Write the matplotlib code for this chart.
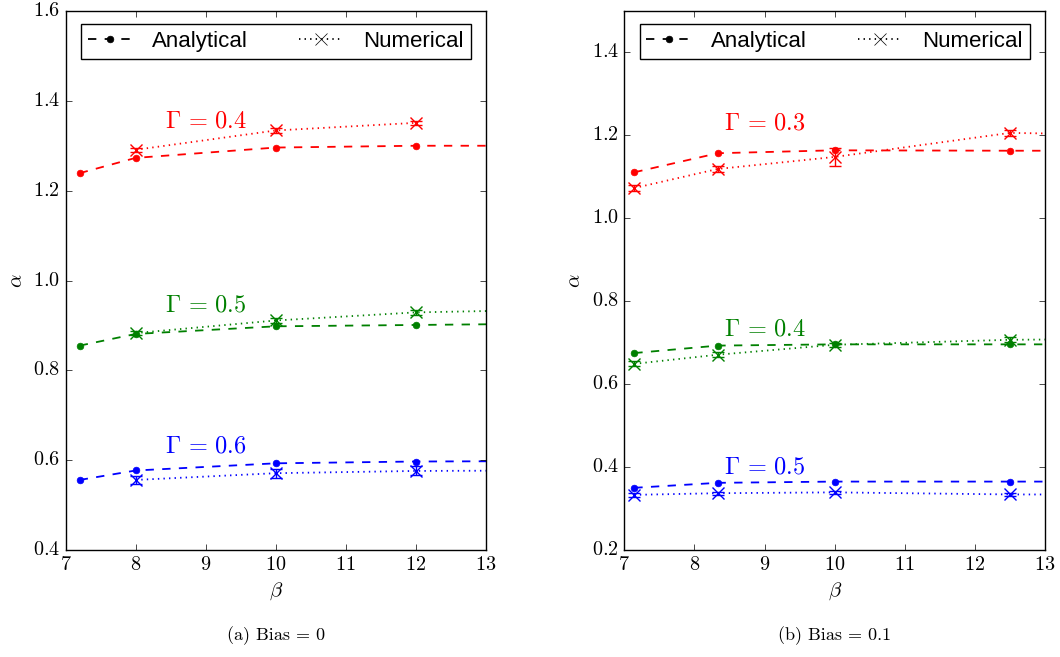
import numpy as np
import matplotlib
matplotlib.use('Agg')
import matplotlib.pyplot as plt
from matplotlib.lines import Line2D

plt.style.use('classic')
plt.rcParams['font.family'] = 'serif'
plt.rcParams['font.serif'] = ['cmr10']
plt.rcParams['mathtext.fontset'] = 'cm'
plt.rcParams['axes.formatter.use_mathtext'] = True

# ---- data: Bias = 0 ----
beta_a = [7.2, 8, 10, 12, 14]
beta_a_num = [8, 10, 12, 14]
ana_a = {0.4: [1.239, 1.273, 1.296, 1.300, 1.300],
         0.5: [0.855, 0.881, 0.898, 0.901, 0.904],
         0.6: [0.556, 0.577, 0.593, 0.597, 0.598]}
num_a = {0.4: [1.291, 1.334, 1.351],
         0.5: [0.883, 0.911, 0.929, 0.935],
         0.6: [0.556, 0.571, 0.576, 0.577]}
err_a = {0.4: [0.005, 0.005, 0.004],
         0.5: [0.005, 0.006, 0.005, 0.0],
         0.6: [0.008, 0.010, 0.010, 0.0]}

# ---- data: Bias = 0.1 ----
beta_b = [50 / 7, 50 / 6, 50 / 5, 50 / 4, 50 / 3]
ana_b = {0.3: [1.111, 1.157, 1.164, 1.163, 1.163],
         0.4: [0.675, 0.693, 0.696, 0.696, 0.696],
         0.5: [0.350, 0.362, 0.365, 0.365, 0.365]}
num_b = {0.3: [1.073, 1.119, 1.148, 1.206, 1.195],
         0.4: [0.649, 0.671, 0.695, 0.707, 0.712],
         0.5: [0.333, 0.337, 0.339, 0.334, 0.333]}
err_b = {0.3: [0.008, 0.008, 0.021, 0.008, 0.0],
         0.4: [0.006, 0.006, 0.005, 0.006, 0.0],
         0.5: [0.004, 0.004, 0.004, 0.004, 0.0]}

colors_a = {0.4: 'r', 0.5: 'g', 0.6: 'b'}
colors_b = {0.3: 'r', 0.4: 'g', 0.5: 'b'}
label_y_a = {0.4: 1.355, 0.5: 0.944, 0.6: 0.630}
label_y_b = {0.3: 1.230, 0.4: 0.733, 0.5: 0.400}

fig = plt.figure(figsize=(10.6, 6.57), dpi=100)
fig.patch.set_facecolor('white')
ax1 = fig.add_axes([65.7 / 1060, 107 / 657, 420 / 1060, 539 / 657])
ax2 = fig.add_axes([624.3 / 1060, 107 / 657, 420.7 / 1060, 539 / 657])


def draw(ax, xa, xn, ana, num, err, colors, label_y):
    for g in ana:
        c = colors[g]
        ax.plot(xa, ana[g], '--', color=c, marker='o', markersize=4.8,
                markeredgecolor=c, lw=1.3)
        n = len(num[g])
        ax.errorbar(xn[:n], num[g], yerr=err[g], fmt=':', color=c, marker='x',
                    markersize=8, markeredgewidth=1.0, lw=1.3, capsize=4, elinewidth=1.0)
        ax.text(8.42, label_y[g], r'$\Gamma\,=\,%s$' % g, color=c, fontsize=17.5,
                ha='left', va='center')
    ax.set_xlim(7, 13)
    ax.set_xlabel(r'$\beta$', fontsize=15)
    ax.set_ylabel(r'$\alpha$', fontsize=15)
    ax.tick_params(labelsize=14.5)
    handles = [Line2D([], [], ls='--', color='k', marker='o', markersize=4.8, lw=1.3),
               Line2D([], [], ls=':', color='k', marker='x', markersize=8, lw=1.3)]
    ax.legend(handles, ['Analytical', 'Numerical'], loc='upper center', ncol=2,
              numpoints=1, handlelength=2.0, handletextpad=0.9, borderpad=0.3,
              prop={'family': 'Liberation Sans', 'size': 16},
              columnspacing=2.3, borderaxespad=0.6)


draw(ax1, beta_a, beta_a_num, ana_a, num_a, err_a, colors_a, label_y_a)
ax1.set_ylim(0.4, 1.6)
ax1.set_yticks(np.arange(0.4, 1.61, 0.2))

draw(ax2, beta_b, beta_b, ana_b, num_b, err_b, colors_b, label_y_b)
ax2.set_ylim(0.2, 1.5)
ax2.set_yticks(np.arange(0.2, 1.41, 0.2))

fig.text(275.7 / 1060, 1 - 636 / 657, '(a) Bias = 0', ha='center', va='center', fontsize=13)
fig.text(834.6 / 1060, 1 - 636 / 657, '(b) Bias = 0.1', ha='center', va='center', fontsize=13)

fig.savefig('out.png', dpi=100, facecolor='white')
